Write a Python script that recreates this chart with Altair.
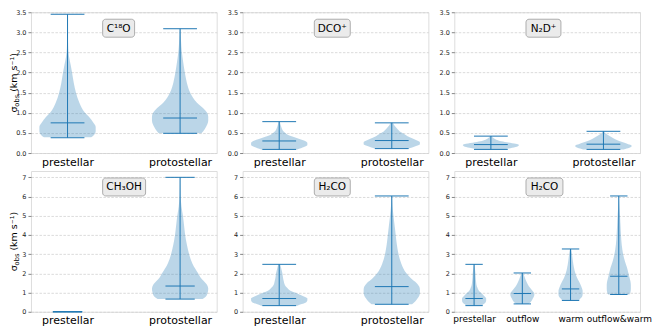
import json
import altair as alt
import pandas as pd

# ---------------- data ----------------
TITLES = ["C¹⁸O", "DCO⁺", "N₂D⁺", "CH₃OH", "H₂CO", "H₂CO"]
CATS_2 = ["prestellar", "protostellar"]
CATS_4 = ["prestellar", "outflow", "warm", "outflow&warm"]

# violin profiles: sigma levels (y) and half-widths (hw)
c18o_pre_y = [0.39, 0.45, 0.55, 0.65, 0.75, 0.9, 1.0, 1.25, 1.5, 1.75, 2.0, 2.2, 2.4, 2.6, 3.0, 3.42]
c18o_pre_hw = [0.21, 0.235, 0.25, 0.25, 0.23, 0.19, 0.155, 0.105, 0.075, 0.055, 0.04, 0.027, 0.013, 0.006, 0.003, 0.002]
c18o_pro_y = [0.49, 0.6, 0.7, 0.8, 0.9, 1.0, 1.1, 1.25, 1.5, 1.75, 2.0, 2.25, 2.5, 2.8, 3.08]
c18o_pro_hw = [0.19, 0.22, 0.24, 0.25, 0.25, 0.24, 0.21, 0.15, 0.09, 0.06, 0.042, 0.028, 0.016, 0.008, 0.004]

dco_pre_y = [0.09, 0.15, 0.2, 0.25, 0.3, 0.35, 0.4, 0.45, 0.5, 0.55, 0.6, 0.7, 0.78]
dco_pre_hw = [0.16, 0.22, 0.25, 0.25, 0.23, 0.18, 0.13, 0.08, 0.055, 0.035, 0.025, 0.012, 0.006]
dco_pro_y = [0.11, 0.17, 0.22, 0.27, 0.32, 0.37, 0.42, 0.47, 0.52, 0.6, 0.68, 0.75]
dco_pro_hw = [0.15, 0.21, 0.25, 0.25, 0.22, 0.18, 0.14, 0.11, 0.08, 0.05, 0.025, 0.01]

n2d_pre_y = [0.09, 0.13, 0.17, 0.2, 0.23, 0.27, 0.3, 0.34, 0.38, 0.42]
n2d_pre_hw = [0.12, 0.19, 0.24, 0.25, 0.22, 0.14, 0.08, 0.04, 0.02, 0.008]
n2d_pro_y = [0.09, 0.13, 0.16, 0.19, 0.22, 0.26, 0.3, 0.35, 0.4, 0.45, 0.5, 0.54]
n2d_pro_hw = [0.18, 0.23, 0.25, 0.25, 0.22, 0.18, 0.14, 0.1, 0.07, 0.04, 0.015, 0.006]

ch3oh_pro_y = [0.66, 0.8, 1.0, 1.2, 1.4, 1.6, 1.8, 2.0, 2.5, 3.0, 3.5, 4.0, 4.5, 5.0, 5.5, 6.0, 6.5, 7.0]
ch3oh_pro_hw = [0.2, 0.23, 0.245, 0.25, 0.24, 0.21, 0.18, 0.16, 0.11, 0.08, 0.06, 0.045, 0.035, 0.025, 0.012, 0.005, 0.003, 0.002]

h2co_pre_y = [0.32, 0.4, 0.5, 0.6, 0.7, 0.8, 0.9, 1.0, 1.1, 1.25, 1.4, 1.6, 1.8, 2.0, 2.25, 2.47]
h2co_pre_hw = [0.16, 0.2, 0.24, 0.25, 0.25, 0.22, 0.18, 0.14, 0.1, 0.07, 0.05, 0.04, 0.033, 0.028, 0.018, 0.008]
h2co_pro_y = [0.39, 0.55, 0.7, 0.85, 1.0, 1.15, 1.3, 1.5, 1.75, 2.0, 2.5, 3.0, 3.5, 4.0, 4.5, 5.0, 5.5, 6.03]
h2co_pro_hw = [0.18, 0.21, 0.23, 0.245, 0.25, 0.25, 0.245, 0.22, 0.17, 0.13, 0.085, 0.06, 0.045, 0.035, 0.025, 0.015, 0.007, 0.003]

outflow_y = [0.41, 0.5, 0.6, 0.7, 0.8, 0.9, 1.0, 1.1, 1.25, 1.4, 1.6, 1.8, 2.02]
outflow_hw = [0.13, 0.17, 0.2, 0.22, 0.24, 0.25, 0.24, 0.21, 0.16, 0.12, 0.08, 0.05, 0.015]
warm_y = [0.59, 0.7, 0.8, 0.9, 1.0, 1.1, 1.2, 1.4, 1.6, 1.8, 2.0, 2.3, 2.6, 3.0, 3.27]
warm_hw = [0.17, 0.21, 0.24, 0.25, 0.25, 0.25, 0.24, 0.21, 0.17, 0.13, 0.1, 0.07, 0.05, 0.03, 0.012]
ow_y = [0.9, 1.0, 1.2, 1.4, 1.6, 1.8, 2.0, 2.3, 2.6, 3.0, 3.5, 4.0, 4.5, 5.0, 5.5, 6.03]
ow_hw = [0.22, 0.24, 0.25, 0.25, 0.24, 0.22, 0.2, 0.17, 0.13, 0.09, 0.06, 0.045, 0.035, 0.025, 0.012, 0.004]

# extrema and medians of each violin
c18o_min, c18o_med, c18o_max = [0.38, 0.49], [0.75, 0.87], [3.45, 3.09]
dco_min, dco_med, dco_max = [0.09, 0.11], [0.30, 0.31], [0.78, 0.75]
n2d_min, n2d_med, n2d_max = [0.09, 0.09], [0.21, 0.22], [0.42, 0.54]
ch3oh_min, ch3oh_med, ch3oh_max = [0.0, 0.66], [0.0, 1.34], [0.0, 7.0]
h2co_min, h2co_med, h2co_max = [0.32, 0.39], [0.69, 1.31], [2.47, 6.03]
h2co4_min, h2co4_med, h2co4_max = [0.32, 0.41, 0.59, 0.9], [0.69, 0.95, 1.19, 1.85], [2.47, 2.02, 3.27, 6.03]

ROW1_TICKS = [0, 0.5, 1.0, 1.5, 2.0, 2.5, 3.0, 3.5]
ROW2_TICKS = [0, 1, 2, 3, 4, 5, 6, 7]

# ---------------- styling / layout ----------------
BLUE = "#1f77b4"
FONT = "DejaVu Sans"
W, H = 186, 141

PANELS = [
    dict(title=TITLES[0], cats=CATS_2, xdom=[0.675, 2.325],
         prof=[(c18o_pre_y, c18o_pre_hw), (c18o_pro_y, c18o_pro_hw)],
         stats=(c18o_min, c18o_med, c18o_max), ydom=[0, 3.5], ticks=ROW1_TICKS,
         fmt=".1f", box_w=32, lab=11, ytitle=True, cap=0.15),
    dict(title=TITLES[1], cats=CATS_2, xdom=[0.675, 2.325],
         prof=[(dco_pre_y, dco_pre_hw), (dco_pro_y, dco_pro_hw)],
         stats=(dco_min, dco_med, dco_max), ydom=[0, 3.5], ticks=ROW1_TICKS,
         fmt=".1f", box_w=36, lab=11, ytitle=False, cap=0.15),
    dict(title=TITLES[2], cats=CATS_2, xdom=[0.675, 2.325],
         prof=[(n2d_pre_y, n2d_pre_hw), (n2d_pro_y, n2d_pro_hw)],
         stats=(n2d_min, n2d_med, n2d_max), ydom=[0, 3.5], ticks=ROW1_TICKS,
         fmt=".1f", box_w=35, lab=11, ytitle=False, cap=0.15),
    dict(title=TITLES[3], cats=CATS_2, xdom=[0.675, 2.325],
         prof=[([], []), (ch3oh_pro_y, ch3oh_pro_hw)],
         stats=(ch3oh_min, ch3oh_med, ch3oh_max), ydom=[0, 7.33], ticks=ROW2_TICKS,
         fmt="d", box_w=43, lab=11, ytitle=True, cap=0.13),
    dict(title=TITLES[4], cats=CATS_2, xdom=[0.675, 2.325],
         prof=[(h2co_pre_y, h2co_pre_hw), (h2co_pro_y, h2co_pro_hw)],
         stats=(h2co_min, h2co_med, h2co_max), ydom=[0, 7.33], ticks=ROW2_TICKS,
         fmt="d", box_w=36, lab=11, ytitle=False, cap=0.15),
    dict(title=TITLES[5], cats=CATS_4, xdom=[0.59, 4.44],
         prof=[(h2co_pre_y, h2co_pre_hw), (outflow_y, outflow_hw), (warm_y, warm_hw), (ow_y, ow_hw)],
         stats=(h2co4_min, h2co4_med, h2co4_max), ydom=[0, 7.33], ticks=ROW2_TICKS,
         fmt="d", box_w=37, lab=9, ytitle=False, cap=0.18),
]


def build_panel(p):
    cats = p["cats"]
    positions = list(range(1, len(cats) + 1))
    rows = []
    for pos, (ys, hws) in zip(positions, p["prof"]):
        for y, hw in zip(ys, hws):
            rows.append({"pos": pos, "y": y, "hw": hw})
    prof = pd.DataFrame(rows, columns=["pos", "y", "hw"])
    mins, meds, maxs = p["stats"]
    stat = pd.DataFrame({"pos": positions, "vmin": mins, "vmed": meds, "vmax": maxs})

    xs = alt.Scale(domain=p["xdom"], nice=False, zero=False)
    ys = alt.Scale(domain=p["ydom"], nice=False, zero=False)
    xaxis = alt.Axis(values=positions, labelExpr=json.dumps(cats) + "[round(datum.value) - 1]",
                     ticks=False, grid=False, domain=False, labelPadding=3,
                     labelFontSize=p["lab"], labelFont=FONT, labelColor="#000000",
                     labelOverlap=False, labelFlush=False)
    yaxis = alt.Axis(values=p["ticks"], format=p["fmt"], grid=True, gridColor="#d2d2d2",
                     gridDash=[2.5, 1.5], gridWidth=0.8, tickSize=3, tickColor="#666666",
                     tickWidth=0.8, domain=False, labelFontSize=6.5, labelFont=FONT,
                     labelColor="#222222", labelPadding=2)

    def X(f):
        return alt.X(f, scale=xs, axis=xaxis, title=None)

    def Y(f):
        return alt.Y(f, scale=ys, axis=yaxis, title=None)

    body = alt.Chart(prof).transform_calculate(
        lo="datum.pos - datum.hw", hi="datum.pos + datum.hw"
    ).mark_area(orient="horizontal", interpolate="monotone", color=BLUE, opacity=0.3).encode(
        y=Y("y:Q"), x=X("lo:Q"), x2="hi:Q", detail="pos:N"
    )
    stem = alt.Chart(stat).mark_rule(color=BLUE, strokeWidth=1).encode(
        x=X("pos:Q"), y=Y("vmin:Q"), y2="vmax:Q"
    )
    caps = alt.Chart(stat).transform_fold(
        ["vmin", "vmed", "vmax"], as_=["stat", "val"]
    ).transform_calculate(
        c0=f"datum.pos - {p['cap']}", c1=f"datum.pos + {p['cap']}"
    ).mark_rule(color=BLUE, strokeWidth=1).encode(
        x=X("c0:Q"), x2="c1:Q", y=Y("val:Q")
    )

    lab = pd.DataFrame({"label": [p["title"]]})
    bx = 0.386 * W
    bw = p["box_w"]
    box = alt.Chart(lab).mark_rect(cornerRadius=3, fill="#ebebeb", stroke="#9a9a9a",
                                   strokeWidth=0.8).encode(
        x=alt.value(bx), x2=alt.value(bx + bw), y=alt.value(7), y2=alt.value(25)
    )
    txt = alt.Chart(lab).mark_text(font=FONT, fontSize=10.5, color="#000000",
                                   align="center", baseline="middle").encode(
        text="label:N", x=alt.value(bx + bw / 2), y=alt.value(16.5)
    )
    layers = [body, stem, caps, box, txt]

    if p["ytitle"]:
        fs, fsub = 9.5, 6.7
        tx = -14
        y0 = H / 2 + 29.8
        w_sigma = 0.602 * fs
        w_obs = 1.768 * fsub
        w_space = 0.318 * fs
        one = pd.DataFrame({"k": [0]})
        t1 = alt.Chart(one).mark_text(text="σ", angle=270, align="left", baseline="alphabetic",
                                      font=FONT, fontSize=fs, color="#000000").encode(
            x=alt.value(tx), y=alt.value(y0))
        t2 = alt.Chart(one).mark_text(text="obs", angle=270, align="left", baseline="alphabetic",
                                      font=FONT, fontSize=fsub, color="#000000").encode(
            x=alt.value(tx + 1.8), y=alt.value(y0 - w_sigma))
        t3 = alt.Chart(one).mark_text(text="(km s⁻¹)", angle=270, align="left", baseline="alphabetic",
                                      font=FONT, fontSize=fs, color="#000000").encode(
            x=alt.value(tx), y=alt.value(y0 - w_sigma - w_obs - w_space))
        layers += [t1, t2, t3]

    return alt.layer(*layers).properties(width=W, height=H)


charts = [build_panel(p) for p in PANELS]
row1 = alt.hconcat(*charts[:3], spacing=26, bounds="flush")
row2 = alt.hconcat(*charts[3:], spacing=26, bounds="flush")
chart = alt.vconcat(row1, row2, spacing=2).properties(
    padding={"left": 0, "top": 0, "right": 0, "bottom": 0}
).configure_view(stroke="#8a8a8a", strokeWidth=1).configure(font=FONT)

chart.save("out.html", embed_options={"renderer": "svg", "actions": False})
